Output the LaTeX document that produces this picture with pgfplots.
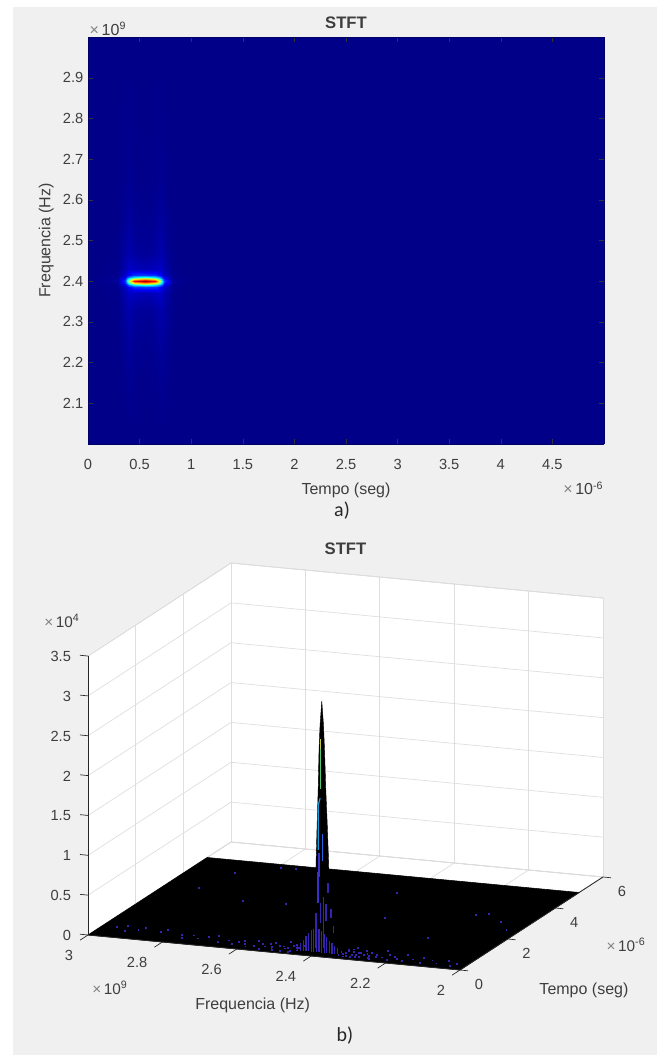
\documentclass[border=0pt]{standalone}
\usepackage{pgfplots}
\pgfplotsset{compat=1.18}
\usepackage{fontspec}
\setmainfont{Liberation Sans}
\newfontfamily\capfont{Carlito}
\definecolor{figbg}{RGB}{240,240,240}
\definecolor{txt}{RGB}{62,62,62}
\definecolor{gridc}{RGB}{222,222,222}
\definecolor{boxc}{RGB}{205,205,205}
\definecolor{ind}{RGB}{58,34,176}
\definecolor{ind2}{RGB}{60,48,205}
\definecolor{blu}{RGB}{40,100,235}
\definecolor{cya}{RGB}{20,155,220}
\definecolor{gre}{RGB}{80,200,110}
\definecolor{yel}{RGB}{190,200,60}
\newcommand\X[1]{#1*0.75pt}
\newcommand\Y[1]{791.25pt-#1*0.75pt}
\newcommand\tenp[1]{{\color{txt!65}×}\,10\textsuperscript{#1}}
\begin{document}
\begin{tikzpicture}
\useasboundingbox (\X{0},\Y{1055}) rectangle (\X{657},\Y{0});
\fill[white] (\X{0},\Y{1055}) rectangle (\X{657},\Y{0});
\fill[figbg] (\X{12.5},\Y{1055}) rectangle (\X{657},\Y{7});
% white walls of the 3D box
\fill[white] (\X{88},\Y{935}) -- (\X{88},\Y{655}) -- (\X{231},\Y{563}) -- (\X{603},\Y{598}) -- (\X{603},\Y{877}) -- (\X{460},\Y{970}) -- cycle;
\begin{axis}[
  at={(\X{88},\Y{444})}, anchor=south west,
  scale only axis, width=387pt, height=305.25pt,
  view={0}{90},
  xmin=0, xmax=5, ymin=2, ymax=3,
  xtick={0,0.5,...,4.5}, ytick={2.1,2.2,...,2.9},
  xticklabels={0,0.5,1,1.5,2,2.5,3,3.5,4,4.5},
  yticklabels={2.1,2.2,2.3,2.4,2.5,2.6,2.7,2.8,2.9},
  tick align=inside, major tick length=3.5pt, tick style={color=black!80},
  axis on top, axis line style={color=black!60!blue,line width=.4pt},
  colormap/jet, point meta min=0, point meta max=1,
  /pgf/number format/assume math mode=true,
  every tick label/.append style={font=\fontsize{11}{13}\selectfont, text=txt},
  xticklabel style={yshift=-8pt},
  title={\bfseries STFT},
  title style={font=\fontsize{12.5}{14}\selectfont, text=txt, at={(0.5,1)}, anchor=south, yshift=-3pt},
  xlabel={Tempo (seg)}, ylabel={Frequencia (Hz)},
  label style={font=\fontsize{12}{14}\selectfont, text=txt},
  xlabel style={yshift=-3pt}, ylabel style={yshift=0pt},
]
\addplot3[surf, shader=interp, mesh/cols=12, point meta=z] coordinates {
(0,2,.008)(.28,2,.008)(.36,2,.008)(.40,2,.008)(.45,2,.008)(.55,2,.008)(.65,2,.008)(.70,2,.008)(.74,2,.008)(.82,2,.008)(1,2,.008)(5,2,.008)
(0,2.15,.008)(.28,2.15,.008)(.36,2.15,.013)(.40,2.15,.018)(.45,2.15,.012)(.55,2.15,.010)(.65,2.15,.012)(.70,2.15,.018)(.74,2.15,.013)(.82,2.15,.008)(1,2.15,.008)(5,2.15,.008)
(0,2.25,.008)(.28,2.25,.009)(.36,2.25,.021)(.40,2.25,.03)(.45,2.25,.019)(.55,2.25,.015)(.65,2.25,.019)(.70,2.25,.03)(.74,2.25,.021)(.82,2.25,.009)(1,2.25,.008)(5,2.25,.008)
(0,2.33,.008)(.28,2.33,.010)(.36,2.33,.032)(.40,2.33,.045)(.45,2.33,.03)(.55,2.33,.022)(.65,2.33,.03)(.70,2.33,.045)(.74,2.33,.032)(.82,2.33,.010)(1,2.33,.008)(5,2.33,.008)
(0,2.37,.008)(.28,2.37,.011)(.36,2.37,.045)(.40,2.37,.07)(.45,2.37,.06)(.55,2.37,.05)(.65,2.37,.06)(.70,2.37,.07)(.74,2.37,.045)(.82,2.37,.011)(1,2.37,.008)(5,2.37,.008)
(0,2.385,.008)(.28,2.385,.012)(.36,2.385,.07)(.40,2.385,.13)(.45,2.385,.17)(.55,2.385,.18)(.65,2.385,.17)(.70,2.385,.13)(.74,2.385,.07)(.82,2.385,.012)(1,2.385,.008)(5,2.385,.008)
(0,2.39,.008)(.28,2.39,.014)(.36,2.39,.10)(.40,2.39,.24)(.45,2.39,.34)(.55,2.39,.40)(.65,2.39,.34)(.70,2.39,.24)(.74,2.39,.10)(.82,2.39,.014)(1,2.39,.008)(5,2.39,.008)
(0,2.395,.008)(.28,2.395,.018)(.36,2.395,.15)(.40,2.395,.44)(.45,2.395,.64)(.55,2.395,.72)(.65,2.395,.64)(.70,2.395,.44)(.74,2.395,.15)(.82,2.395,.018)(1,2.395,.008)(5,2.395,.008)
(0,2.4,.008)(.28,2.4,.022)(.36,2.4,.18)(.40,2.4,.56)(.45,2.4,.87)(.55,2.4,.97)(.65,2.4,.87)(.70,2.4,.56)(.74,2.4,.18)(.82,2.4,.022)(1,2.4,.008)(5,2.4,.008)
(0,2.405,.008)(.28,2.405,.018)(.36,2.405,.15)(.40,2.405,.44)(.45,2.405,.64)(.55,2.405,.72)(.65,2.405,.64)(.70,2.405,.44)(.74,2.405,.15)(.82,2.405,.018)(1,2.405,.008)(5,2.405,.008)
(0,2.41,.008)(.28,2.41,.014)(.36,2.41,.10)(.40,2.41,.24)(.45,2.41,.34)(.55,2.41,.40)(.65,2.41,.34)(.70,2.41,.24)(.74,2.41,.10)(.82,2.41,.014)(1,2.41,.008)(5,2.41,.008)
(0,2.415,.008)(.28,2.415,.012)(.36,2.415,.07)(.40,2.415,.13)(.45,2.415,.17)(.55,2.415,.18)(.65,2.415,.17)(.70,2.415,.13)(.74,2.415,.07)(.82,2.415,.012)(1,2.415,.008)(5,2.415,.008)
(0,2.43,.008)(.28,2.43,.011)(.36,2.43,.045)(.40,2.43,.07)(.45,2.43,.06)(.55,2.43,.05)(.65,2.43,.06)(.70,2.43,.07)(.74,2.43,.045)(.82,2.43,.011)(1,2.43,.008)(5,2.43,.008)
(0,2.47,.008)(.28,2.47,.010)(.36,2.47,.032)(.40,2.47,.045)(.45,2.47,.03)(.55,2.47,.022)(.65,2.47,.03)(.70,2.47,.045)(.74,2.47,.032)(.82,2.47,.010)(1,2.47,.008)(5,2.47,.008)
(0,2.55,.008)(.28,2.55,.009)(.36,2.55,.021)(.40,2.55,.03)(.45,2.55,.019)(.55,2.55,.015)(.65,2.55,.019)(.70,2.55,.03)(.74,2.55,.021)(.82,2.55,.009)(1,2.55,.008)(5,2.55,.008)
(0,2.65,.008)(.28,2.65,.008)(.36,2.65,.013)(.40,2.65,.018)(.45,2.65,.012)(.55,2.65,.010)(.65,2.65,.012)(.70,2.65,.018)(.74,2.65,.013)(.82,2.65,.008)(1,2.65,.008)(5,2.65,.008)
(0,3,.008)(.28,3,.008)(.36,3,.008)(.40,3,.008)(.45,3,.008)(.55,3,.008)(.65,3,.008)(.70,3,.008)(.74,3,.008)(.82,3,.008)(1,3,.008)(5,3,.008)
};
\end{axis}
\begin{axis}[
  at={(\X{88},\Y{970})}, anchor=south west,
  x={(279pt,-26.25pt)}, y={(17.875pt,11.625pt)}, z={(0pt,59.775pt)},
  x dir=reverse,
  xmin=2, xmax=3, ymin=0, ymax=6, zmin=0, zmax=3.5,
  clip=false,
  xtick={2,2.2,2.4,2.6,2.8,3}, xticklabels={2,2.2,2.4,2.6,2.8,3},
  ytick={0,2,4,6},
  ztick={0,0.5,...,3.5}, zticklabels={0,0.5,1,1.5,2,2.5,3,3.5},
  xtick pos=lower, ytick pos=lower, ztick pos=lower,
  grid=major, major grid style={color=gridc,line width=.5pt},
  axis line style={color=boxc,line width=.5pt},
  tick align=outside, major tick length=6pt, major tick style={draw=none},
  /pgf/number format/assume math mode=true,
  every tick label/.append style={font=\fontsize{11}{13}\selectfont, text=txt},
  xticklabel style={anchor=north east, xshift=-2.75pt, yshift=-5pt},
  yticklabel style={xshift=1.5pt, yshift=-3pt},
  zticklabel style={anchor=east, xshift=-4.25pt, yshift=3pt},
  title={\bfseries STFT},
  title style={font=\fontsize{12.5}{14}\selectfont, text=txt, yshift=-3pt},
  xlabel={Frequencia (Hz)}, ylabel={Tempo (seg)},
  label style={font=\fontsize{12}{14}\selectfont, text=txt, sloped=false},
  xlabel style={xshift=7.75pt, yshift=3.75pt},
  ylabel style={xshift=1pt, yshift=-8pt},
]
% floor of the surface, t up to 5e-6
\addplot3[fill=black,draw=black] coordinates {(3,0,0)(2,0,0)(2,5,0)(3,5,0)(3,0,0)};
% spike
\addplot3[fill=black,draw=black,line width=.3pt] coordinates {
(2.4236,.5,0)(2.419,.5,1.06)(2.416,.5,1.57)(2.4133,.5,1.98)(2.4109,.5,2.5)(2.4082,.5,2.8)(2.4036,.5,3.1)
(2.399,.5,2.8)(2.3963,.5,2.5)(2.3927,.5,1.98)(2.389,.5,1.57)(2.385,.5,1.06)(2.3804,.5,0)(2.4236,.5,0)};
% coloured mesh lines on the spike
\addplot3[gre,line width=.7pt] coordinates {(2.408,.5,2.0)(2.408,.5,2.5)};
\addplot3[yel,line width=.6pt] coordinates {(2.4065,.5,2.5)(2.4065,.5,2.62)};
\addplot3[cya,line width=.9pt] coordinates {(2.413,.5,1.23)(2.413,.5,1.79)(2.408,.5,1.88)};
\addplot3[blu,line width=1pt] coordinates {(2.402,.5,1.10)(2.402,.5,1.43)};
\addplot3[ind2,line width=1pt] coordinates {(2.411,.5,.89)(2.411,.5,1.19)};
% low stems under the spike
\addplot3[ind2,line width=.9pt] coordinates {(2.414,.5,.56)(2.414,.5,.95)};
\addplot3[ind,line width=.9pt] coordinates {(2.408,.5,.31)(2.408,.5,.56)};
\addplot3[ind,line width=.9pt] coordinates {(2.419,.5,0)(2.419,.5,.44)};
\addplot3[ind,line width=.9pt] coordinates {(2.4,.5,0)(2.4,.5,.64)};
\addplot3[ind,line width=.9pt] coordinates {(2.392,.5,.35)(2.392,.5,.56)};
\addplot3[ind,line width=.9pt] coordinates {(2.387,.5,.70)(2.387,.5,.83)};
\addplot3[ind,line width=.9pt] coordinates {(2.379,.5,.39)(2.379,.5,.50)};
\addplot3[ind,line width=.9pt] coordinates {(2.373,.5,.20)(2.373,.5,.29)};
% hump at the front edge
\addplot3[ind,line width=1pt] coordinates {(2.452,.25,0)(2.452,.25,.07)};
\addplot3[ind,line width=1pt] coordinates {(2.444,.25,0)(2.444,.25,.10)};
\addplot3[ind,line width=1pt] coordinates {(2.437,.25,0)(2.437,.25,.14)};
\addplot3[ind,line width=1pt] coordinates {(2.430,.25,0)(2.430,.25,.19)};
\addplot3[ind,line width=1pt] coordinates {(2.423,.25,0)(2.423,.25,.23)};
\addplot3[ind,line width=1pt] coordinates {(2.416,.25,0)(2.416,.25,.27)};
\addplot3[ind,line width=1pt] coordinates {(2.409,.25,0)(2.409,.25,.29)};
\addplot3[ind,line width=1pt] coordinates {(2.402,.25,0)(2.402,.25,.30)};
\addplot3[ind,line width=1pt] coordinates {(2.395,.25,0)(2.395,.25,.29)};
\addplot3[ind,line width=1pt] coordinates {(2.388,.25,0)(2.388,.25,.27)};
\addplot3[ind,line width=1pt] coordinates {(2.381,.25,0)(2.381,.25,.24)};
\addplot3[ind,line width=1pt] coordinates {(2.374,.25,0)(2.374,.25,.20)};
\addplot3[ind,line width=1pt] coordinates {(2.367,.25,0)(2.367,.25,.16)};
\addplot3[ind,line width=1pt] coordinates {(2.360,.25,0)(2.360,.25,.13)};
\addplot3[ind,line width=1pt] coordinates {(2.353,.25,0)(2.353,.25,.10)};
\addplot3[ind,line width=1pt] coordinates {(2.346,.25,0)(2.346,.25,.07)};
% scattered points on the floor
\addplot3[only marks,mark=square*,mark size=.32pt,color=ind] coordinates {
(2.879,4.27,0)(2.789,4.8,0)(2.75,4.82,0)(2.909,3.24,0)(2.759,2.74,0)(2.647,2.8,0)(2.426,4.0,0)(2.364,2.53,0)(2.161,3.18,0)(2.134,3.31,0)(2.077,2.92,0)(2.036,2.5,0)(2.191,1.63,0)
(2.96,.6,0)(2.94,.75,0)(2.93,.45,0)(2.90,.55,0)(2.89,.7,0)(2.84,.55,0)(2.83,.7,0)(2.78,.5,0)(2.77,.35,0)(2.75,.55,0)(2.73,.4,0)(2.71,.55,0)(2.69,.65,0)(2.67,.3,0)(2.65,.45,0)
(2.63,.25,0)(2.61,.5,0)(2.60,.35,0)(2.58,.6,0)(2.57,.25,0)(2.56,.45,0)(2.545,.3,0)(2.53,.55,0)(2.52,.2,0)(2.51,.4,0)(2.50,.7,0)(2.49,.3,0)(2.48,.5,0)(2.47,.2,0)(2.465,.4,0)(2.46,.7,0)(2.455,.25,0)
(2.62,.4,0)(2.59,.2,0)(2.55,.15,0)(2.54,.5,0)(2.525,.3,0)(2.515,.15,0)(2.50,.4,0)(2.495,.15,0)(2.485,.35,0)(2.475,.55,0)(2.47,.1,0)(2.46,.4,0)(2.455,.55,0)
(2.345,.4,0)(2.34,.2,0)(2.335,.55,0)(2.33,.35,0)(2.325,.6,0)(2.32,.2,0)(2.315,.45,0)(2.305,.15,0)(2.30,.3,0)(2.295,.45,0)(2.285,.2,0)(2.275,.4,0)(2.265,.3,0)(2.255,.15,0)(2.245,.3,0)
(2.335,.3,0)(2.33,.5,0)(2.325,.15,0)(2.32,.7,0)(2.31,.3,0)(2.30,.45,0)(2.295,.2,0)(2.29,.6,0)(2.28,.35,0)(2.27,.5,0)(2.26,.2,0)(2.25,.4,0)(2.24,.7,0)(2.23,.3,0)(2.22,.5,0)(2.21,.2,0)(2.20,.4,0)
(2.19,.3,0)(2.18,.6,0)(2.17,.2,0)(2.15,.35,0)(2.13,.5,0)(2.12,.2,0)(2.10,.4,0)(2.08,.25,0)(2.06,.45,0)(2.04,.2,0)(2.03,.35,0)
};
\draw[black!85,line width=.6pt] (axis cs:3,0,0) -- (axis cs:3,0,3.5);
\draw[black!85,line width=.6pt] (axis cs:3,0,0) -- (axis cs:2,0,0) -- (axis cs:2,6,0);
% tick marks on the three front edges only
\draw[black!85,line width=.5pt] (axis cs:3,0,0) -- ++(-6pt,-3.9pt);
\draw[black!85,line width=.5pt] (axis cs:2.8,0,0) -- ++(-6pt,-3.9pt);
\draw[black!85,line width=.5pt] (axis cs:2.6,0,0) -- ++(-6pt,-3.9pt);
\draw[black!85,line width=.5pt] (axis cs:2.4,0,0) -- ++(-6pt,-3.9pt);
\draw[black!85,line width=.5pt] (axis cs:2.2,0,0) -- ++(-6pt,-3.9pt);
\draw[black!85,line width=.5pt] (axis cs:2,0,0) -- ++(-6pt,-3.9pt);
\draw[black!85,line width=.5pt] (axis cs:2,0,0) -- ++(6pt,-.6pt);
\draw[black!85,line width=.5pt] (axis cs:2,2,0) -- ++(6pt,-.6pt);
\draw[black!85,line width=.5pt] (axis cs:2,4,0) -- ++(6pt,-.6pt);
\draw[black!85,line width=.5pt] (axis cs:2,6,0) -- ++(6pt,-.6pt);
\draw[black!85,line width=.5pt] (axis cs:3,0,0) -- ++(-6pt,.6pt);
\draw[black!85,line width=.5pt] (axis cs:3,0,0.5) -- ++(-6pt,.6pt);
\draw[black!85,line width=.5pt] (axis cs:3,0,1) -- ++(-6pt,.6pt);
\draw[black!85,line width=.5pt] (axis cs:3,0,1.5) -- ++(-6pt,.6pt);
\draw[black!85,line width=.5pt] (axis cs:3,0,2) -- ++(-6pt,.6pt);
\draw[black!85,line width=.5pt] (axis cs:3,0,2.5) -- ++(-6pt,.6pt);
\draw[black!85,line width=.5pt] (axis cs:3,0,3) -- ++(-6pt,.6pt);
\draw[black!85,line width=.5pt] (axis cs:3,0,3.5) -- ++(-6pt,.6pt);
\end{axis}
\node[text=txt,anchor=south west,font=\fontsize{12}{14}\selectfont] at (\X{85},\Y{40}) {\tenp{9}};
\node[text=txt,anchor=north east,font=\fontsize{12}{14}\selectfont] at (\X{608},\Y{477}) {\tenp{-6}};
\node[text=txt,font=\fontsize{11.5}{13}\selectfont] at (\X{110},\Y{988}) {\tenp{9}};
\node[text=txt,font=\fontsize{11.5}{13}\selectfont] at (\X{626},\Y{945}) {\tenp{-6}};
\node[text=txt,font=\fontsize{11.5}{13}\selectfont] at (\X{62},\Y{621}) {\tenp{4}};
\node[text=black!85,font=\capfont\fontsize{15}{17}\selectfont] at (\X{342},\Y{511}) {a)};
\node[text=black!85,font=\capfont\fontsize{15}{17}\selectfont] at (\X{345},\Y{1036}) {b)};
\end{tikzpicture}
\end{document}
